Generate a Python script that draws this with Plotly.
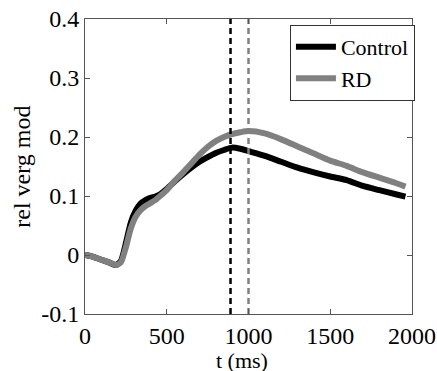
import plotly.graph_objects as go

t_ms = [0, 50, 100, 150, 190, 220, 250, 280, 310, 340, 370, 400, 430, 460, 500, 550, 600, 650, 700, 750, 800, 850, 900, 950, 1000, 1100, 1200, 1300, 1400, 1500, 1600, 1700, 1800, 1900, 1960]
control = [0, -0.003, -0.008, -0.013, -0.017, -0.010, 0.020, 0.055, 0.075, 0.087, 0.093, 0.097, 0.099, 0.103, 0.112, 0.125, 0.137, 0.148, 0.158, 0.166, 0.173, 0.178, 0.182, 0.180, 0.176, 0.168, 0.158, 0.148, 0.140, 0.133, 0.127, 0.117, 0.110, 0.103, 0.099]
rd = [0, -0.003, -0.008, -0.013, -0.017, -0.012, 0.013, 0.045, 0.065, 0.076, 0.083, 0.088, 0.093, 0.100, 0.110, 0.126, 0.140, 0.155, 0.170, 0.183, 0.193, 0.200, 0.205, 0.208, 0.210, 0.206, 0.196, 0.184, 0.172, 0.160, 0.151, 0.140, 0.131, 0.122, 0.116]
peak_control = 890
peak_rd = 1000
x_ticks = [0, 500, 1000, 1500, 2000]
y_ticks = [-0.1, 0, 0.1, 0.2, 0.3, 0.4]
y_labels = ["-0.1", "0", "0.1", "0.2", "0.3", "0.4"]

FONT = "Liberation Serif"
GRAY = "#808080"

fig = go.Figure()
fig.add_trace(go.Scatter(x=t_ms, y=control, mode="lines", name="Control",
                         line=dict(color="black", width=6, shape="spline", smoothing=0.6)))
fig.add_trace(go.Scatter(x=t_ms, y=rd, mode="lines", name="RD",
                         line=dict(color=GRAY, width=6, shape="spline", smoothing=0.6)))
fig.add_trace(go.Scatter(x=[peak_control, peak_control], y=[-0.1, 0.4], mode="lines", showlegend=False,
                         line=dict(color="black", width=2.5, dash="6px,4px")))
fig.add_trace(go.Scatter(x=[peak_rd, peak_rd], y=[-0.1, 0.4], mode="lines", showlegend=False,
                         line=dict(color=GRAY, width=2.5, dash="6px,4px")))

axis_common = dict(showgrid=False, zeroline=False, showline=True, linecolor="#555555", linewidth=1,
                   mirror="ticks", ticks="inside", ticklen=5, tickcolor="#555555", automargin=False,
                   tickfont=dict(family=FONT, size=24, color="black"))

fig.update_layout(
    width=437, height=371,
    margin=dict(l=85, r=25, t=19, b=57),
    paper_bgcolor="white", plot_bgcolor="white",
    font=dict(family=FONT, size=24, color="black"),
    xaxis=dict(range=[0, 2000], tickvals=x_ticks, **axis_common),
    yaxis=dict(range=[-0.1, 0.4], tickvals=y_ticks, ticktext=y_labels, **axis_common),
    legend=dict(x=1.009, y=0.98, xanchor="right", yanchor="top", bgcolor="white",
                bordercolor="#333333", borderwidth=1, font=dict(family=FONT, size=22),
                itemwidth=40, tracegroupgap=0),
    showlegend=True,
    annotations=[
        dict(text="t (ms)", xref="paper", yref="paper", x=0.48, y=-0.156, xanchor="center",
             yanchor="middle", showarrow=False, font=dict(family=FONT, size=22)),
        dict(text="rel verg mod", xref="paper", yref="paper", x=-0.195, y=0.5, xanchor="center",
             yanchor="middle", showarrow=False, textangle=-90, font=dict(family=FONT, size=24)),
    ],
)

fig.write_html("out.html", config={"displayModeBar": False},
               post_script="document.body.style.margin='0';")
